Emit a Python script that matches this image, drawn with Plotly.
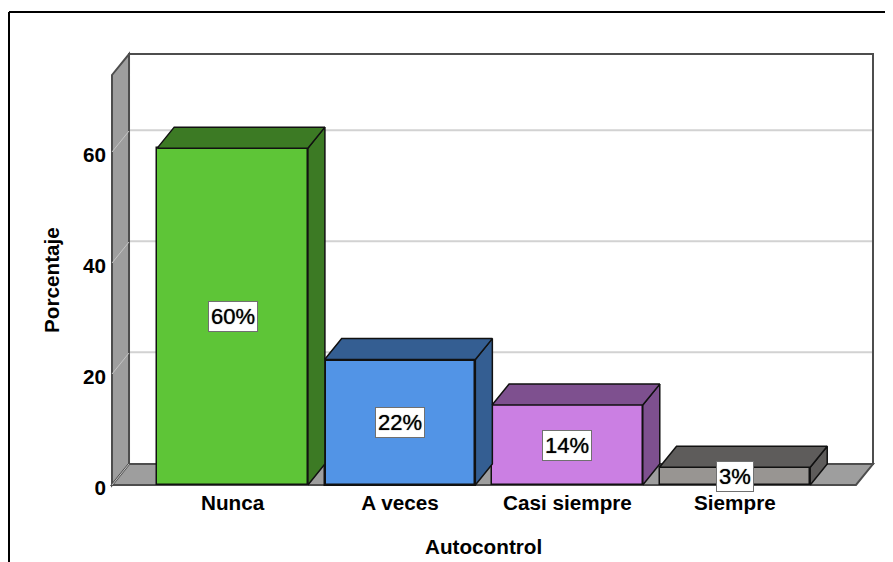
import plotly.graph_objects as go

categories = ["Nunca", "A veces", "Casi siempre", "Siempre"]
values = [60.7, 22.6, 14.4, 3.2]
labels = ["60%", "22%", "14%", "3%"]
front_colors = ["#5ec537", "#5294e6", "#cb7fe3", "#989592"]
side_colors = ["#3c7a24", "#345e92", "#7e508f", "#5e5c5b"]
edge_widths = [1.5, 2.5, 1.5, 1.5]
y_ticks = [0, 20, 40, 60]
x_title = "Autocontrol"
y_title = "Porcentaje"

# The page sits 8 px in from the window corner, so the figure is 8 px smaller
# and every pixel position below is given in window terms and shifted by OFF.
OFF = 8
W, H = 893 - OFF, 562 - OFF
PAD = 3
L, R, T, B = 112 - OFF - PAD, 893 - 873 - PAD, 54 - OFF - PAD, 562 - 485 - PAD
FONT = "Liberation Sans"
TXT = 20.7
LABEL_TXT = 22

PX_X, PX_Y = 167.3, 5.55
X_MIN, X_MAX = -0.72, 3.825
Y_MAX = 77.66
X_LO, X_HI = X_MIN - PAD / PX_X, X_MAX + PAD / PX_X
Y_LO, Y_HI = -PAD / PX_Y, Y_MAX + PAD / PX_Y
DX, DY = 0.1016, 3.78
GRID_NUDGE = 0.15
BAR_W = 0.9
WALL = "#9e9e9e"
EDGE = "#4d4d4d"
GRID = "#d2d2d2"


def poly(xs, ys, fill, line=EDGE, width=2):
    path = "M " + " L ".join(f"{x},{y}" for x, y in zip(xs, ys)) + " Z"
    return dict(type="path", path=path, xref="x", yref="y", layer="below",
                fillcolor=fill, line=dict(color=line, width=width))


def seg(x0, y0, x1, y1, color, width):
    return dict(type="line", xref="x", yref="y", layer="below", x0=x0, y0=y0, x1=x1, y1=y1,
                line=dict(color=color, width=width))


shapes = []
# back wall, side wall, floor
shapes.append(poly([X_MIN + DX, X_MAX, X_MAX, X_MIN + DX], [DY, DY, Y_MAX, Y_MAX], "#ffffff"))
for v in y_ticks:
    if v:
        shapes.append(seg(X_MIN + DX, v + DY + GRID_NUDGE, X_MAX - 0.006, v + DY + GRID_NUDGE, GRID, 2))
shapes.append(poly([X_MIN, X_MIN + DX, X_MIN + DX, X_MIN], [0, DY, Y_MAX, Y_MAX - DY], WALL))
shapes.append(poly([X_MIN, X_MAX - DX, X_MAX, X_MIN + DX], [0, 0, DY, DY], WALL))
for v in y_ticks:
    shapes.append(seg(X_MIN, v, X_MIN + DX, v + DY, "#c4c4c4", 1))

# outer frame, in window pixels converted to paper coordinates
plot_w, plot_h = W - L - R, H - T - B
px = lambda p: (p - OFF - L) / plot_w
py = lambda p: 1 - (p - OFF - T) / plot_h
for x0, y0, x1, y1 in [(9, 12, 9, 570), (9, 12, 900, 12)]:
    shapes.append(dict(type="line", xref="paper", yref="paper", x0=px(x0), y0=py(y0), x1=px(x1), y1=py(y1),
                       line=dict(color="#000000", width=2)))

fig = go.Figure()
xs = list(range(len(categories)))
fig.add_trace(go.Bar(x=xs, y=values, width=BAR_W,
                     marker=dict(color=front_colors, line=dict(color="#111111", width=edge_widths)),
                     hoverinfo="skip", showlegend=False))

for i, v in enumerate(values):
    x0, x1 = i - BAR_W / 2, i + BAR_W / 2
    fig.add_trace(go.Scatter(x=[x1, x1 + DX, x1 + DX, x1, x1], y=[0, DY, v + DY, v, 0], mode="lines", fill="toself",
                             fillcolor=side_colors[i], line=dict(color="#111111", width=1.5),
                             hoverinfo="skip", showlegend=False))
    fig.add_trace(go.Scatter(x=[x0, x0 + DX, x1 + DX, x1, x0], y=[v, v + DY, v + DY, v, v], mode="lines", fill="toself",
                             fillcolor=side_colors[i], line=dict(color="#111111", width=1.5),
                             hoverinfo="skip", showlegend=False))

annotations = [
    dict(x=i, y=v / 2, xref="x", yref="y", text=labels[i], showarrow=False,
         font=dict(family=FONT, size=LABEL_TXT, color="#000000", shadow="0 0 1px rgba(0,0,0,0.8)"),
         bgcolor="#ffffff", bordercolor="#707070", borderwidth=1, borderpad=2)
    for i, v in enumerate(values)
]
annotations.append(dict(x=px(483), y=py(546), xref="paper", yref="paper", text=x_title, showarrow=False,
                        font=dict(family=FONT, size=TXT, color="#000000", weight="bold"), xanchor="center", yanchor="middle"))
annotations.append(dict(x=px(51), y=py(280), xref="paper", yref="paper", text=y_title, showarrow=False, textangle=-90,
                        font=dict(family=FONT, size=TXT, color="#000000", weight="bold"), xanchor="center", yanchor="middle"))

fig.update_layout(
    width=W, height=H, autosize=False, margin=dict(l=L, r=R, t=T, b=B, pad=0),
    paper_bgcolor="#ffffff", plot_bgcolor="#ffffff", shapes=shapes, annotations=annotations, bargap=0,
    xaxis=dict(range=[X_LO, X_HI], tickvals=xs, ticktext=categories, showgrid=False, zeroline=False, showline=False,
               ticks="", tickfont=dict(family=FONT, size=TXT, color="#000000", weight="bold")),
    yaxis=dict(range=[Y_LO, Y_HI], tickvals=y_ticks, showgrid=False, zeroline=False, showline=False,
               ticks="", ticklabelstandoff=2, ticklabelshift=3,
               tickfont=dict(family=FONT, size=TXT, color="#000000", weight="bold")),
)
fig.write_html("out.html", config=dict(displayModeBar=False, responsive=False))
